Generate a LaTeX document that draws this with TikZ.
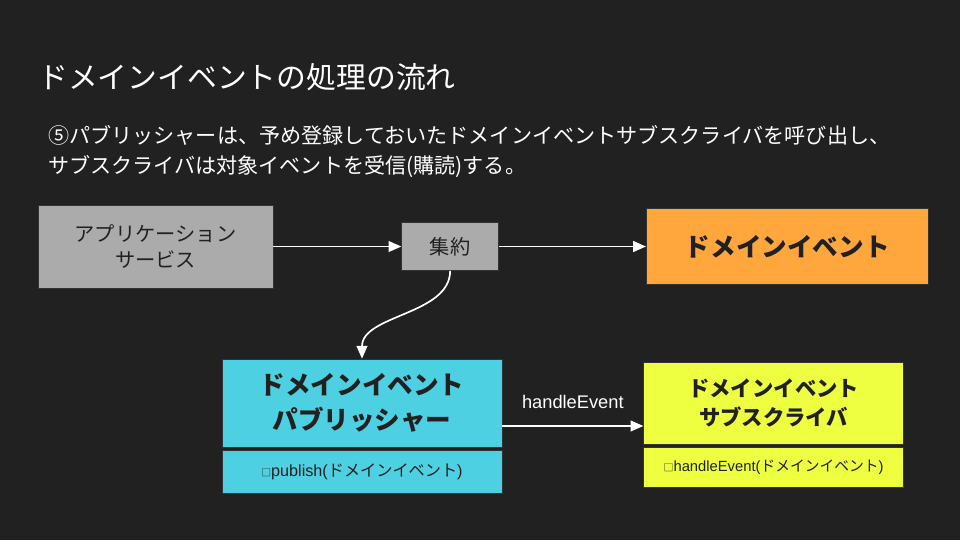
\documentclass[tikz,border=0pt]{standalone}
\usepackage{fontspec}
\usepackage{tikz}
\usepackage{xcolor}
\usetikzlibrary{arrows.meta, positioning, calc}
\newfontfamily\jpfont{Noto Sans CJK JP}
\newfontfamily\latinfont{Liberation Sans}
\definecolor{bgdark}{HTML}{212121}
\definecolor{boxline}{HTML}{333333}
\definecolor{boxgray}{HTML}{ABABAB}
\definecolor{evorange}{HTML}{FFA63C}
\definecolor{pubcyan}{HTML}{4DD0E1}
\definecolor{subyellow}{HTML}{EEFF41}
\newcommand{\sq}{{\jpfont\fontsize{7}{8}\selectfont □}}
\tikzset{
    service/.style={
        rectangle,
        draw=boxline,
        align=center,
        fill=boxgray,
        text=bgdark,
        inner sep=0pt,
        font=\jpfont\fontsize{14.4}{19}\selectfont
    },
    event/.style={
        rectangle,
        draw=boxline,
        align=center,
        fill=evorange,
        text=bgdark,
        inner sep=0pt,
        minimum width=7.05cm,
        minimum height=1.9cm,
        font=\jpfont\bfseries\fontsize{18.2}{22}\selectfont
    },
    classhead/.style={
        rectangle,
        draw=boxline,
        align=center,
        text=bgdark,
        inner sep=0pt,
        font=\jpfont\bfseries\fontsize{18.2}{25}\selectfont
    },
    classop/.style={
        rectangle,
        draw=boxline,
        align=center,
        text=bgdark,
        inner sep=0pt,
        font=\jpfont\fontsize{11.5}{14}\selectfont
    },
    arrow/.style={white, line width=1.2pt, -{Triangle[length=0.32cm, width=0.27cm]}}
}

\begin{document}
\begin{tikzpicture}[x=0.025cm, y=-0.025cm]

        \fill [bgdark] (0,0) rectangle (960,540);
        \useasboundingbox (0,0) rectangle (960,540);

        \node (title) [anchor=west, inner sep=0pt, text=white, font=\jpfont\fontsize{21.2}{26}\selectfont] at (38,77) {ドメインイベントの処理の流れ};
        \node (lead) [anchor=west, inner sep=0pt, align=left, text=white, font=\jpfont\fontsize{15}{21.3}\selectfont] at (48,152)
            {⑤パブリッシャーは、予め登録しておいたドメインイベントサブスクライバを呼び出し、\\サブスクライバは対象イベントを受信(購読)する。};

        \node (app) [service, minimum width=5.875cm, minimum height=2.075cm] at (155.5,246.5) {アプリケーション\\サービス};
        \node (agg) [service, minimum width=2.425cm, minimum height=1.2cm, right=3.2cm of app] {集約};
        \node (domev) [event, right=3.675cm of agg] {ドメインイベント};

        \node (pubhead) [classhead, fill=pubcyan, minimum width=7cm, minimum height=2.2cm] at (362,403) {ドメインイベント\\パブリッシャー};
        \node (pubop) [classop, fill=pubcyan, minimum width=7cm, minimum height=1.075cm, below=0.075cm of pubhead]
            {\sq{\latinfont publish(}ドメインイベント{\latinfont )}};

        \node (subhead) [classhead, fill=subyellow, font=\jpfont\bfseries\fontsize{15.2}{21}\selectfont, minimum width=6.5cm, minimum height=2.05cm, right=3.525cm of pubhead] {ドメインイベント\\サブスクライバ};
        \node (subop) [classop, fill=subyellow, font=\jpfont\fontsize{10.5}{13}\selectfont, minimum width=6.5cm, minimum height=1cm, below=0.075cm of subhead]
            {\sq{\latinfont handleEvent(}ドメインイベント{\latinfont )}};

        \coordinate (callfrom) at ($(pubhead.east)+(0,-0.575cm)$);
        \coordinate (callto) at (callfrom -| subhead.west);

        \draw [arrow] (app) -- (agg);
        \draw [arrow] (agg) -- (domev);
        \draw [arrow] (agg.south) .. controls +(0,-1.1cm) and +(0,1.1cm) .. (pubhead.north);
        \draw [arrow] (callfrom) -- node (calllabel) [above=0.3cm, text=white, font=\latinfont\fontsize{13}{15}\selectfont] {handleEvent} (callto);

    \end{tikzpicture}
\end{document}
